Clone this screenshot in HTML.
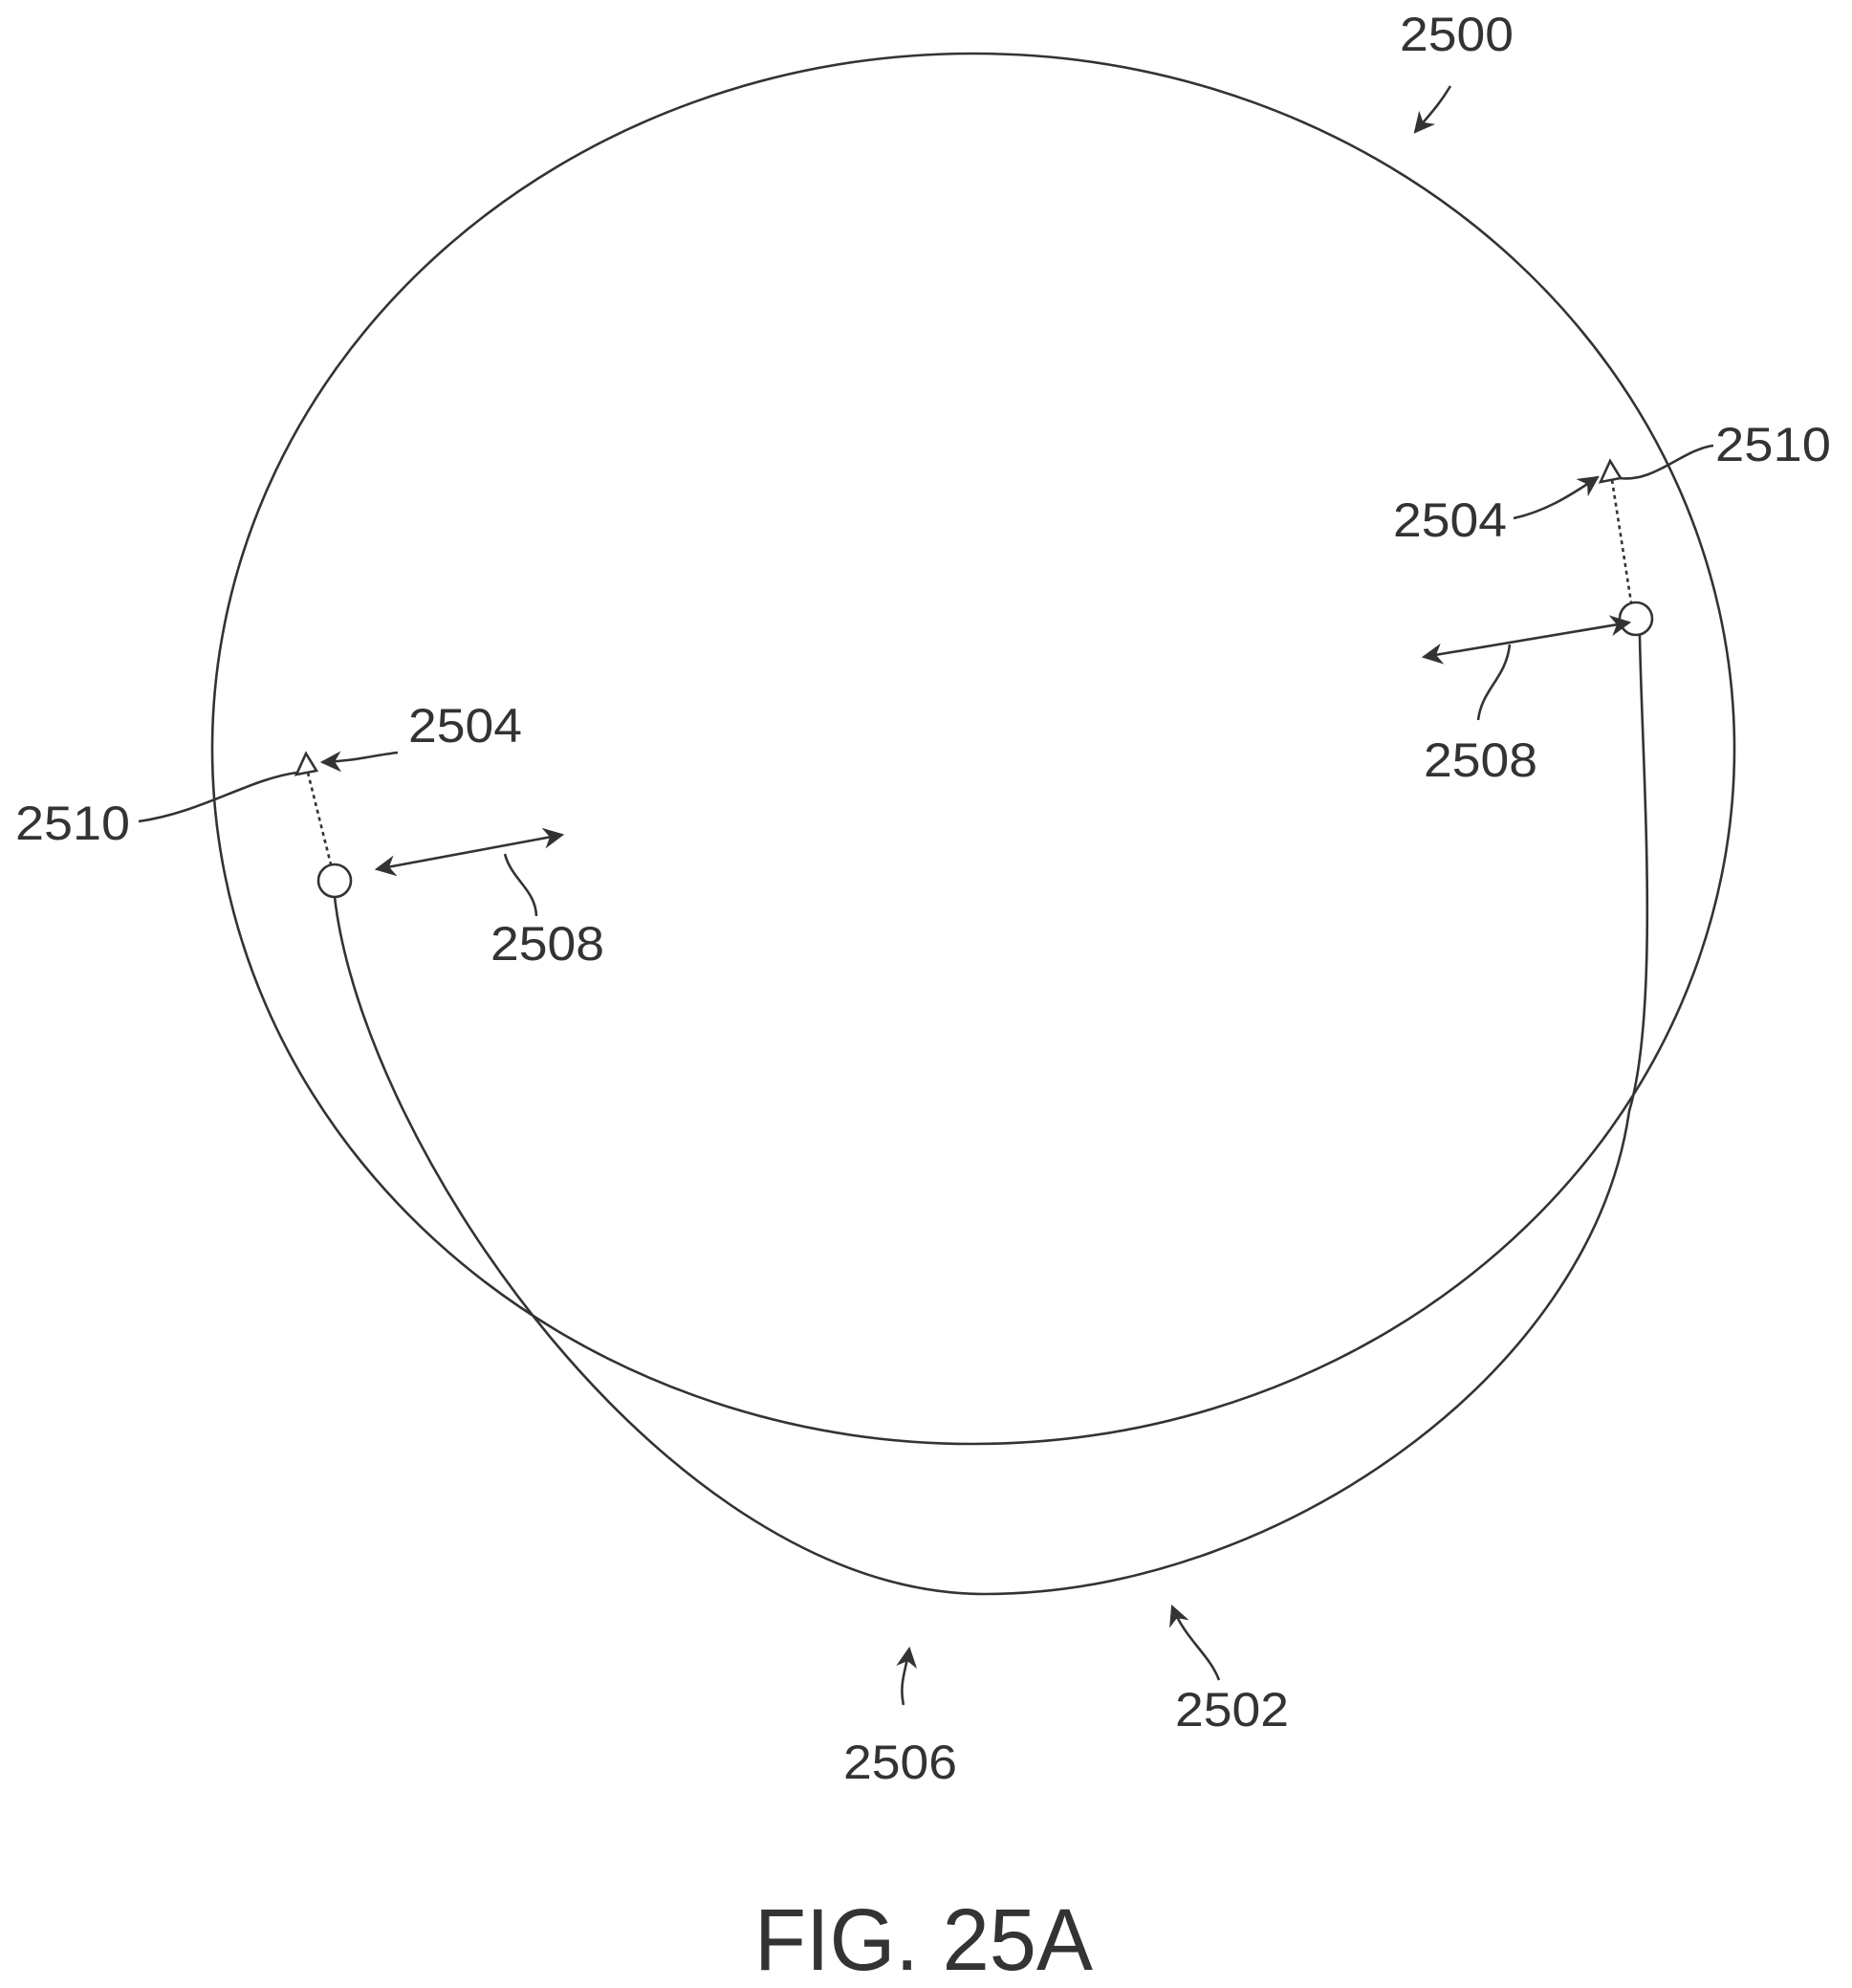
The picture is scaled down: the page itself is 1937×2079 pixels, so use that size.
<!DOCTYPE html>
<html><head><meta charset="utf-8"><style>html,body{margin:0;padding:0;background:#fff}svg{display:block}</style></head>
<body>
<svg width="1937" height="2079" viewBox="0 0 1937 2079" xmlns="http://www.w3.org/2000/svg">
<defs>
<marker id="ahb" viewBox="0 0 10 10" refX="9" refY="5" markerWidth="26" markerHeight="22" orient="auto-start-reverse" markerUnits="userSpaceOnUse">
<path d="M0,0 L10,5 L0,10 L3,5 z" fill="#333"/>
</marker>
</defs>
<g fill="none" stroke="#333" stroke-width="2.6">
<ellipse cx="1018" cy="783" rx="796" ry="727"/>
<path d="M350,938 C380,1200 700,1667 1030,1667 C1330,1667 1664,1440 1704,1162 C1737,1050 1717,793 1715,664"/>
<circle cx="350" cy="921" r="17"/>
<circle cx="1711" cy="647" r="17"/>
<path d="M320,788 L310,810 L331,806 z"/>
<path d="M1684,482 L1674,504 L1695,500 z"/>
<line x1="322" y1="808" x2="346" y2="904" stroke-dasharray="4,4"/>
<line x1="1686" y1="502" x2="1706" y2="630" stroke-dasharray="4,4"/>
<path d="M145,859 C210,850 260,815 310,808"/>
<path d="M1694,500 C1730,505 1760,470 1792,466"/>
<path d="M1517,90 C1505,110 1495,120 1480,138" marker-end="url(#ahb)"/>
<path d="M416,787 C390,790 370,796 337,797" marker-end="url(#ahb)"/>
<path d="M1583,542 C1615,535 1640,520 1671,499" marker-end="url(#ahb)"/>
<line x1="394" y1="909" x2="588" y2="873" marker-start="url(#ahb)" marker-end="url(#ahb)"/>
<line x1="1489" y1="687" x2="1704" y2="651" marker-start="url(#ahb)" marker-end="url(#ahb)"/>
<path d="M528,893 C535,920 560,930 561,958"/>
<path d="M1579,674 C1575,710 1550,720 1546,753"/>
<path d="M945,1783 C940,1760 948,1745 951,1724" marker-end="url(#ahb)"/>
<path d="M1275,1757 C1265,1730 1240,1715 1226,1680" marker-end="url(#ahb)"/>
</g>
<g font-family="Liberation Sans, sans-serif" font-size="50" fill="#333">
<text x="1464" y="53" textLength="119" lengthAdjust="spacingAndGlyphs">2500</text>
<text x="16" y="878" textLength="120" lengthAdjust="spacingAndGlyphs">2510</text>
<text x="427" y="776" textLength="119" lengthAdjust="spacingAndGlyphs">2504</text>
<text x="513" y="1004" textLength="119" lengthAdjust="spacingAndGlyphs">2508</text>
<text x="1794" y="482" textLength="121" lengthAdjust="spacingAndGlyphs">2510</text>
<text x="1457" y="561" textLength="119" lengthAdjust="spacingAndGlyphs">2504</text>
<text x="1489" y="812" textLength="119" lengthAdjust="spacingAndGlyphs">2508</text>
<text x="882" y="1860" textLength="119" lengthAdjust="spacingAndGlyphs">2506</text>
<text x="1229" y="1805" textLength="119" lengthAdjust="spacingAndGlyphs">2502</text>
<text x="789" y="2060" font-size="92" textLength="354" lengthAdjust="spacingAndGlyphs">FIG. 25A</text>
</g>
</svg>
</body></html>
